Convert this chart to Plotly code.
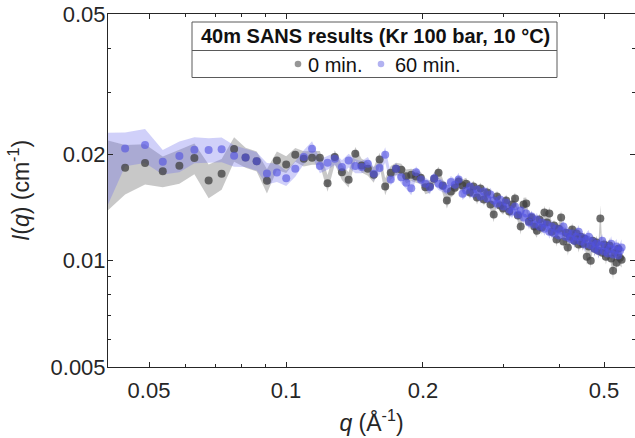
import math
import plotly.graph_objects as go

# ---------------- data ----------------
q = [
    0.0397, 0.0443, 0.0490, 0.0536, 0.0583, 0.0629, 0.0676, 0.0722, 0.0769, 0.0815,
    0.0862, 0.0908, 0.0955, 0.1001, 0.1048, 0.1094, 0.1141, 0.1187, 0.1234, 0.1280,
    0.1327, 0.1373, 0.1420, 0.1466, 0.1513, 0.1559, 0.1606, 0.1652, 0.1699, 0.1745,
    0.1792, 0.1838, 0.1885, 0.1931, 0.1978, 0.2024, 0.2071, 0.2117, 0.2164, 0.2210,
    0.2257, 0.2303, 0.2350, 0.2396, 0.2443, 0.2489, 0.2536, 0.2582, 0.2629, 0.2675,
    0.2722, 0.2768, 0.2815, 0.2861, 0.2908, 0.2954, 0.3001, 0.3047, 0.3094, 0.3140,
    0.3187, 0.3233, 0.3280, 0.3326, 0.3373, 0.3419, 0.3466, 0.3512, 0.3559, 0.3605,
    0.3652, 0.3698, 0.3745, 0.3791, 0.3838, 0.3884, 0.3931, 0.3977, 0.4024, 0.4070,
    0.4117, 0.4163, 0.4210, 0.4256, 0.4303, 0.4349, 0.4396, 0.4442, 0.4489, 0.4535,
    0.4582, 0.4628, 0.4675, 0.4721, 0.4768, 0.4814, 0.4861, 0.4907, 0.4954, 0.5000,
    0.5047, 0.5093, 0.5140, 0.5186, 0.5233, 0.5279, 0.5326, 0.5372, 0.5419, 0.5465,
]

I_0min = [
    0.01779, 0.01834, 0.01891, 0.01794, 0.01858, 0.01953, 0.01688, 0.01764, 0.02072, 0.01962,
    0.01915, 0.01685, 0.01924, 0.01874, 0.01997, 0.01946, 0.01959, 0.01959, 0.01659, 0.01966,
    0.01782, 0.01696, 0.02010, 0.01862, 0.01822, 0.01752, 0.01937, 0.01623, 0.01775, 0.01822,
    0.01810, 0.01736, 0.01752, 0.01733, 0.01718, 0.01616, 0.01623, 0.01707, 0.01775, 0.01634,
    0.01481, 0.01571, 0.01610, 0.01677, 0.01634, 0.01652, 0.01561, 0.01623, 0.01510, 0.01602,
    0.01491, 0.01561, 0.01443, 0.01352, 0.01520, 0.01434, 0.01406, 0.01481, 0.01378, 0.01443,
    0.01500, 0.01343, 0.01250, 0.01443, 0.01453, 0.01292, 0.01326, 0.01250, 0.01217, 0.01309,
    0.01242, 0.01369, 0.01283, 0.01360, 0.01209, 0.01258, 0.01148, 0.01233, 0.01326, 0.01133,
    0.01201, 0.01090, 0.01170, 0.01225, 0.01140, 0.01194, 0.01111, 0.01170, 0.01118, 0.01155,
    0.01027, 0.01097, 0.01000, 0.01140, 0.01082, 0.01126, 0.01068, 0.01317, 0.01054, 0.01111,
    0.01027, 0.01075, 0.01104, 0.01014, 0.00937, 0.01054, 0.00987, 0.01082, 0.01020, 0.01007,
]

I_60min = [
    0.01826, 0.02081, 0.02126, 0.01908, 0.01979, 0.02064, 0.02058, 0.02068, 0.01984, 0.01962,
    0.01915, 0.01767, 0.01779, 0.01714, 0.01822, 0.01966, 0.02077, 0.01854, 0.01895, 0.01946,
    0.01842, 0.01924, 0.01854, 0.01842, 0.01883, 0.01764, 0.01830, 0.01997, 0.01699, 0.01822,
    0.01725, 0.01663, 0.01605, 0.01782, 0.01699, 0.01652, 0.01616, 0.01714, 0.01652, 0.01627,
    0.01600, 0.01670, 0.01642, 0.01699, 0.01547, 0.01581, 0.01623, 0.01551, 0.01592, 0.01520,
    0.01571, 0.01500, 0.01540, 0.01481, 0.01453, 0.01491, 0.01425, 0.01462, 0.01397, 0.01378,
    0.01425, 0.01352, 0.01387, 0.01326, 0.01360, 0.01283, 0.01334, 0.01266, 0.01309, 0.01250,
    0.01283, 0.01233, 0.01266, 0.01209, 0.01250, 0.01194, 0.01233, 0.01178, 0.01217, 0.01250,
    0.01170, 0.01201, 0.01155, 0.01194, 0.01140, 0.01170, 0.01209, 0.01133, 0.01163, 0.01111,
    0.01148, 0.01170, 0.01104, 0.01133, 0.01082, 0.01118, 0.01068, 0.01104, 0.01140, 0.01061,
    0.01097, 0.01048, 0.01082, 0.01118, 0.01041, 0.01075, 0.01097, 0.01034, 0.01068, 0.01090,
]

# relative uncertainty (half-width of the shaded band / I)
err_0min = [
    0.24, 0.16, 0.13, 0.10, 0.11, 0.10, 0.11, 0.10, 0.08, 0.065,
    0.065, 0.08, 0.06, 0.055, 0.045, 0.05, 0.045, 0.045, 0.055, 0.045,
    0.05, 0.05, 0.045, 0.045, 0.045, 0.05, 0.045, 0.055, 0.045, 0.04,
    0.04, 0.045, 0.04, 0.04, 0.04, 0.045, 0.04, 0.04, 0.04, 0.045,
    0.05, 0.04, 0.04, 0.04, 0.04, 0.04, 0.04, 0.04, 0.045, 0.04,
    0.04, 0.04, 0.045, 0.05, 0.04, 0.04, 0.04, 0.04, 0.045, 0.04,
    0.04, 0.045, 0.05, 0.045, 0.04, 0.045, 0.04, 0.045, 0.045, 0.04,
    0.045, 0.045, 0.04, 0.045, 0.045, 0.04, 0.045, 0.045, 0.045, 0.05,
    0.045, 0.05, 0.045, 0.045, 0.045, 0.045, 0.05, 0.045, 0.045, 0.045,
    0.05, 0.045, 0.05, 0.045, 0.045, 0.045, 0.05, 0.09, 0.045, 0.05,
    0.05, 0.045, 0.05, 0.05, 0.055, 0.05, 0.055, 0.05, 0.05, 0.05,
]

err_60min = [
    0.26, 0.11, 0.11, 0.08, 0.10, 0.085, 0.08, 0.08, 0.07, 0.06,
    0.06, 0.07, 0.06, 0.05, 0.05, 0.045, 0.05, 0.045, 0.045, 0.04,
    0.045, 0.045, 0.045, 0.04, 0.045, 0.045, 0.04, 0.05, 0.04, 0.04,
    0.04, 0.04, 0.045, 0.04, 0.04, 0.04, 0.045, 0.04, 0.04, 0.04,
    0.04, 0.04, 0.04, 0.045, 0.04, 0.04, 0.04, 0.04, 0.04, 0.045,
    0.04, 0.04, 0.045, 0.04, 0.04, 0.04, 0.04, 0.045, 0.04, 0.04,
    0.045, 0.04, 0.04, 0.045, 0.04, 0.045, 0.04, 0.045, 0.045, 0.04,
    0.045, 0.045, 0.04, 0.045, 0.045, 0.045, 0.045, 0.04, 0.045, 0.045,
    0.045, 0.045, 0.045, 0.05, 0.045, 0.045, 0.045, 0.05, 0.045, 0.045,
    0.05, 0.045, 0.05, 0.045, 0.05, 0.045, 0.05, 0.05, 0.045, 0.05,
    0.05, 0.05, 0.055, 0.05, 0.05, 0.055, 0.05, 0.055, 0.05, 0.055,
]

x_ticks = [0.05, 0.1, 0.2, 0.5]
x_ticklabels = ["0.05", "0.1", "0.2", "0.5"]
x_minor = [0.06, 0.07, 0.08, 0.09, 0.3, 0.4]
y_ticks = [0.005, 0.01, 0.02, 0.05]
y_ticklabels = ["0.005", "0.01", "0.02", "0.05"]
y_minor = [0.006, 0.007, 0.008, 0.009, 0.03, 0.04]

legend_title = "40m SANS results (Kr 100 bar, 10 °C)"
series_names = ["0 min.", "60 min."]

# ---------------- styling ----------------
FONT = "Liberation Sans, Arial, Helvetica, sans-serif"
AX = "#262626"
W, H = 635, 438
L, R, T, B = 108, 0, 14, 71

gray_band = "rgba(110,110,110,0.38)"
blue_band = "rgba(110,110,235,0.32)"
gray_pt = "rgba(64,64,64,0.76)"
blue_pt = "rgba(80,80,225,0.62)"


def band(xs, ys, es, color):
    up = [y * (1 + e) for y, e in zip(ys, es)]
    lo = [y * (1 - e) for y, e in zip(ys, es)]
    return go.Scatter(x=list(xs) + list(xs)[::-1], y=up + lo[::-1],
                      fill="toself", fillcolor=color, line=dict(width=0),
                      mode="lines", hoverinfo="skip", showlegend=False)


fig = go.Figure()
fig.add_trace(band(q, I_0min, err_0min, gray_band))
fig.add_trace(band(q, I_60min, err_60min, blue_band))
fig.add_trace(go.Scatter(x=q, y=I_0min, mode="markers", name=series_names[0],
                         marker=dict(size=8, color=gray_pt, line=dict(width=0)),
                         showlegend=False))
fig.add_trace(go.Scatter(x=q, y=I_60min, mode="markers", name=series_names[1],
                         marker=dict(size=8, color=blue_pt, line=dict(width=0)),
                         showlegend=False))
# dummy trace so the right-hand tick axis is drawn
fig.add_trace(go.Scatter(x=[q[0]], y=[y_ticks[0]], yaxis="y2", mode="markers",
                         marker=dict(opacity=0), hoverinfo="skip", showlegend=False))

xr = [-1.3912, -0.2330]
yr = [math.log10(y_ticks[0]), math.log10(y_ticks[-1])]

fig.update_layout(
    width=W, height=H,
    margin=dict(l=L, r=R, t=T, b=B),
    paper_bgcolor="white", plot_bgcolor="white",
    font=dict(family=FONT, size=22, color=AX),
    showlegend=False,
    xaxis=dict(
        type="log", range=xr, tickmode="array", tickvals=x_ticks, ticktext=x_ticklabels,
        ticks="inside", ticklen=5, tickwidth=1, tickcolor=AX,
        showline=True, linecolor=AX, linewidth=1, mirror="ticks",
        showgrid=False, zeroline=False, ticklabelstandoff=4,
        minor=dict(tickmode="array", tickvals=x_minor, ticks="inside", ticklen=3,
                   tickcolor=AX, showgrid=False),
        tickfont=dict(size=22, color=AX),
        title=dict(text="<i>q</i> (Å<sup>-1</sup>)", font=dict(size=23, color=AX), standoff=12),
    ),
    yaxis=dict(
        type="log", range=yr, tickmode="array", tickvals=y_ticks, ticktext=y_ticklabels,
        ticks="inside", ticklen=5, tickwidth=1, tickcolor=AX,
        showline=True, linecolor=AX, linewidth=1, mirror=False,
        showgrid=False, zeroline=False, ticklabelstandoff=-3,
        minor=dict(tickmode="array", tickvals=y_minor, ticks="inside", ticklen=3,
                   tickcolor=AX, showgrid=False),
        tickfont=dict(size=22, color=AX),
        title=dict(text="<i>I</i>(<i>q</i>) (cm<sup>-1</sup>)", font=dict(size=23, color=AX), standoff=14),
    ),
    yaxis2=dict(
        type="log", range=yr, overlaying="y", side="right", tickmode="array",
        tickvals=y_ticks, ticks="inside", ticklen=5, tickcolor=AX, showticklabels=False,
        showline=False, showgrid=False, zeroline=False,
        minor=dict(tickmode="array", tickvals=y_minor, ticks="inside", ticklen=3,
                   tickcolor=AX, showgrid=False),
    ),
)


def px(x):
    return (x - L) / (W - L - R)


def py(y):
    return (H - B - y) / (H - B - T)


# legend box built from shapes + annotations
fig.add_shape(type="rect", xref="paper", yref="paper",
              x0=px(192), x1=px(557), y0=py(77.5), y1=py(22),
              fillcolor="white", line=dict(color="#5a5a5a", width=1), layer="above")
fig.add_shape(type="line", xref="paper", yref="paper",
              x0=px(192), x1=px(557), y0=py(50.5), y1=py(50.5),
              line=dict(color="#5a5a5a", width=1), layer="above")
fig.add_annotation(xref="paper", yref="paper", x=px(375), y=py(36.5),
                   text="<b>" + legend_title + "</b>", showarrow=False,
                   xanchor="center", yanchor="middle",
                   font=dict(family=FONT, size=20, color="#111111"))
for cx, col, tx, name in [(298, "rgba(64,64,64,0.55)", 306, series_names[0]),
                          (381, "rgba(85,85,225,0.45)", 393, series_names[1])]:
    fig.add_shape(type="circle", xref="paper", yref="paper",
                  x0=px(cx - 3.3), x1=px(cx + 3.3), y0=py(64 + 3.3), y1=py(64 - 3.3),
                  fillcolor=col, line=dict(width=0), layer="above")
    fig.add_annotation(xref="paper", yref="paper", x=px(tx), y=py(64.5),
                       text=name, showarrow=False, xanchor="left", yanchor="middle",
                       font=dict(family=FONT, size=20, color="#111111"))

fig.write_html("out.html")
